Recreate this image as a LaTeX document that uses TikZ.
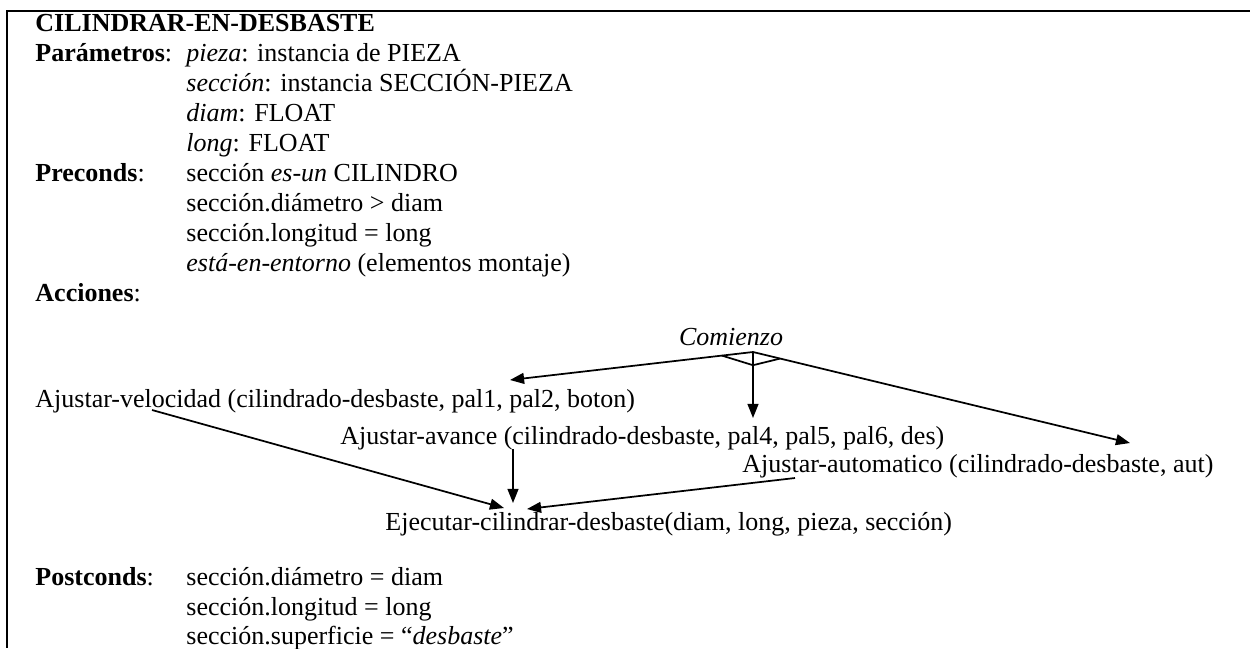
\documentclass[tikz,border=0pt]{standalone}
\usepackage{fontspec}
\setmainfont{Liberation Serif}
\usetikzlibrary{arrows.meta,calc}
\begin{document}
\begin{tikzpicture}[x=0.4615pt,y=-0.4615pt,
  txt/.style={anchor=base west,inner sep=0pt,font=\fontsize{12}{13.8}\selectfont},
  ctxt/.style={anchor=base,inner sep=0pt,font=\fontsize{12}{13.8}\selectfont},
  arr/.style={line width=0.8pt,-{Triangle[length=6.5pt,width=5pt]}},
  link/.style={line width=0.8pt},
  frame/.style={line width=1pt}]
\useasboundingbox (0,0) rectangle (1250,648);
% open frame: top and left edges
\draw[frame] (1250,11) -- (7,11) -- (7,648);

% header and parameter block
\node[txt] (title)  at (35,31)  {\textbf{CILINDRAR-EN-DESBASTE}};
\node[txt] (parlab) at (35,61)  {\textbf{Parámetros}:};
\node[txt] (par1)   at (186,61) {\textit{pieza}: instancia de PIEZA};
\node[txt] (par2)   at (186,91) {\textit{sección}: instancia SECCIÓN-PIEZA};
\node[txt] (par3)   at (186,121){\textit{diam}: FLOAT};
\node[txt] (par4)   at (186,151){\textit{long}: FLOAT};
\node[txt] (prelab) at (35,181) {\textbf{Preconds}:};
\node[txt] (pre1)   at (186,181){sección \textit{es-un} CILINDRO};
\node[txt] (pre2)   at (186,211){sección.diámetro > diam};
\node[txt] (pre3)   at (186,241){sección.longitud = long};
\node[txt] (pre4)   at (186,271){\textit{está-en-entorno} (elementos montaje)};
\node[txt] (acclab) at (35,301) {\textbf{Acciones}:};

% action network
\node[ctxt] (start) at (731,345) {\textit{Comienzo}};
\node[txt] (vel)  at (35,407)  {Ajustar-velocidad (cilindrado-desbaste, pal1, pal2, boton)};
\node[txt] (ava)  at (340,444) {Ajustar-avance (cilindrado-desbaste, pal4, pal5, pal6, des)};
\node[txt] (aut)  at (742,472) {Ajustar-automatico (cilindrado-desbaste, aut)};
\node[txt] (ejec) at (385,530) {Ejecutar-cilindrar-desbaste(diam, long, pieza, sección)};

% connector end points
\coordinate (apex)   at ($(start.base)+(22,7)$);
\coordinate (velIn)  at ($(vel.base west)+(475,-27)$);
\coordinate (avaIn)  at ($(apex |- ava.base)+(0,-26)$);
\coordinate (autIn)  at ($(aut.base west)+(388,-29)$);
\coordinate (velOut) at ($(vel.base west)+(117,3)$);
\coordinate (avaOut) at ($(ava.base west)+(173,5)$);
\coordinate (autOut) at ($(aut.base west)+(53,6)$);
\coordinate (ejA) at ($(ejec.base west)+(119,-22)$);
\coordinate (ejB) at ($(ejec.base west)+(128,-27)$);
\coordinate (ejC) at ($(ejec.base west)+(142,-21)$);

% split from the start node, with the AND bar
\draw[arr] (apex) -- (velIn);
\draw[arr] (apex) -- (avaIn);
\draw[arr] (apex) -- (autIn);
\draw[link] ($(apex)!0.128!(velIn)$) -- ($(apex)!0.2!(avaIn)$) -- ($(apex)!0.072!(autIn)$);

% join into the execution step
\draw[arr] (velOut) -- (ejA);
\draw[arr] (avaOut) -- (ejB);
\draw[arr] (autOut) -- (ejC);

% postconditions
\node[txt] (postlab) at (35,585)  {\textbf{Postconds}:};
\node[txt] (post1)   at (186,585) {sección.diámetro = diam};
\node[txt] (post2)   at (186,615) {sección.longitud = long};
\node[txt] (post3)   at (186,644) {sección.superficie = “\textit{desbaste}”};
\end{tikzpicture}
\end{document}
